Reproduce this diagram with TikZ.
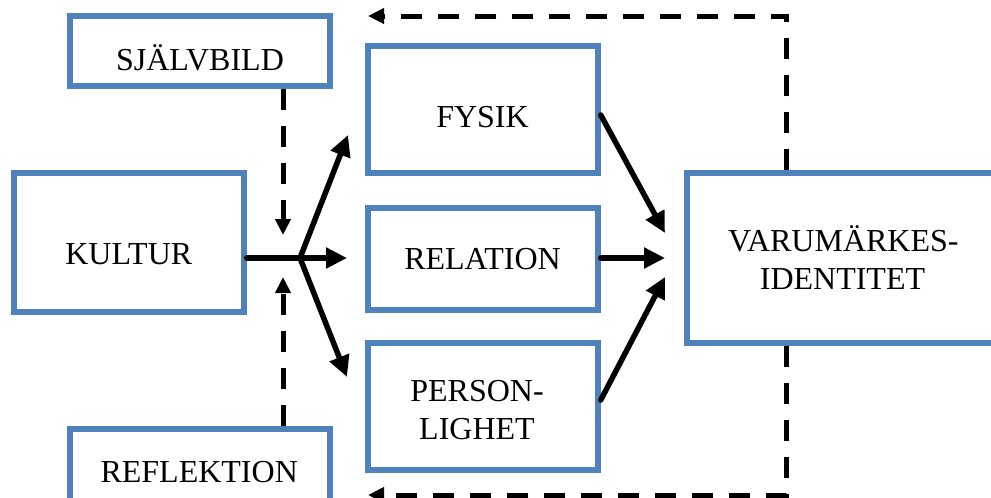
\documentclass[tikz,border=0pt]{standalone}
\usepackage{fontspec}
\setmainfont{Liberation Serif}
\usetikzlibrary{arrows.meta}
\definecolor{boxblue}{HTML}{4F81BD}
\begin{document}
\begin{tikzpicture}[x=1pt,y=-1pt,
  box/.style={draw=boxblue, line width=5.5pt, rectangle, inner sep=0pt},
  lbl/.style={font=\fontsize{32}{38}\selectfont, inner sep=0pt, text height=21.2pt, text depth=0pt},
  flow/.style={line width=5.5pt, line cap=round, -{Triangle[length=21pt,width=20pt]}},
  feed/.style={line width=5pt, dash pattern=on 21pt off 16pt, -{Triangle[length=16pt,width=15pt]}}]
\useasboundingbox (0,0) rectangle (991,498);

% boxes
\node[box, minimum width=260pt, minimum height=70pt]  (sjalv)    at (200,51)    {};
\node[box, minimum width=230pt, minimum height=139pt] (kultur)   at (129,242.5) {};
\node[box, minimum width=230pt, minimum height=127pt] (fysik)    at (483,109.5) {};
\node[box, minimum width=230pt, minimum height=102pt] (relation) at (483,259)   {};
\node[box, minimum width=230pt, minimum height=127pt] (person)   at (483,406.5) {};
\node[box, minimum width=313pt, minimum height=170pt] (varum)    at (843.5,258) {};
\node[box, minimum width=260pt, minimum height=86pt]  (refl)     at (200,472)   {};

% labels
\node[lbl] (sjalvT)   at (200,60.3)   {SJÄLVBILD};
\node[lbl] (kulturT)  at (128.8,253.7) {KULTUR};
\node[lbl] (fysikT)   at (482.5,116.7) {FYSIK};
\node[lbl] (relT)     at (482.5,258.5) {RELATION};
\node[lbl] (persT1)   at (477,390.8)  {PERSON-};
\node[lbl] (persT2)   at (477,428.8)  {LIGHET};
\node[lbl] (varumT1)  at (843.3,240.8) {VARUMÄRKES-};
\node[lbl] (varumT2)  at (842.5,279.2) {IDENTITET};
\node[lbl] (reflT)    at (199.2,471.7) {REFLEKTION};

% junction and tips
\coordinate (J)  at (300,258);
\coordinate (tF) at (348,135);
\coordinate (tR) at (347,258);
\coordinate (tP) at (347,377);
\draw[line width=5.5pt, line cap=round] (kultur.east |- J) -- (J);
\draw[flow] (J) -- (tF);
\draw[flow] (J) -- (tR);
\draw[flow] (J) -- (tP);

% into identity
\coordinate (fS) at (598,115);
\coordinate (fE) at (665,233);
\coordinate (rE) at (665,258);
\coordinate (pS) at (600,400);
\coordinate (pE) at (665,277);
\draw[flow] (fysik.east |- fS) -- (fE);
\draw[flow] (relation.east |- rE) -- (rE);
\draw[flow] (person.east |- pS) -- (pE);

% dashed feedback
\coordinate (cT) at (786,16);
\coordinate (tT) at (368,16);
\coordinate (cB) at (786,495);
\coordinate (tB) at (368,495);
\draw[feed] (varum.north -| cT) -- (cT) -- (tT);
\draw[feed] (varum.south -| cB) -- (cB) -- (tB);
\coordinate (tS)  at (283,235);
\coordinate (tRf) at (283,277);
\draw[feed] (sjalv.south -| tS) -- (tS);
\draw[feed] (refl.north -| tRf) -- (tRf);
\end{tikzpicture}
\end{document}
